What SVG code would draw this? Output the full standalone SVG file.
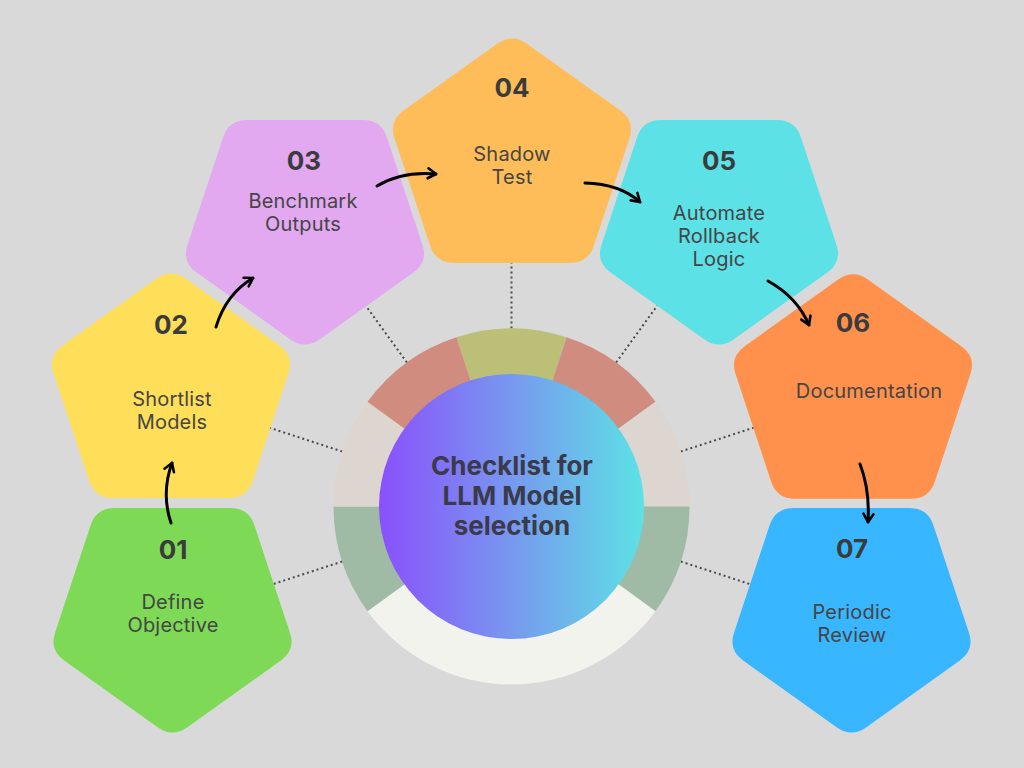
<svg xmlns="http://www.w3.org/2000/svg" width="1024" height="768" viewBox="0 0 1024 768">
  <defs>
    <style>
      .num { font-family: Inter, "Liberation Sans", sans-serif; font-weight: 700; font-size: 26px; fill: #3b3b3b; text-anchor: middle; }
      .lbl { font-family: Inter, "Liberation Sans", sans-serif; font-weight: 400; font-size: 20px; fill: #454545; text-anchor: middle; letter-spacing: 0.2px; }
      .title { font-family: Inter, "Liberation Sans", sans-serif; font-weight: 700; font-size: 26px; fill: #3a3a4a; text-anchor: middle; }
      .dot { stroke: #4a4a4a; stroke-width: 2; stroke-dasharray: 2 3; fill: none; }
      .arrow { stroke: #000; stroke-width: 3; fill: none; stroke-linecap: round; marker-end: url(#head); }
    </style>
    <path id="penta" d="M -14.56,-116.42 Q 0,-127 14.56,-116.42 L 106.22,-49.83 Q 120.78,-39.25 115.22,-22.13 L 80.21,85.63 Q 74.65,102.75 56.65,102.75 L -56.65,102.75 Q -74.65,102.75 -80.21,85.63 L -115.22,-22.13 Q -120.78,-39.25 -106.22,-49.83 Z"/>
    <marker id="head" markerUnits="userSpaceOnUse" markerWidth="14" markerHeight="14" viewBox="0 0 14 14" refX="11" refY="7" orient="auto">
      <path d="M3,2 L11,7 L3,12" fill="none" stroke="#000" stroke-width="2.6" stroke-linecap="round" stroke-linejoin="round"/>
    </marker>
    <linearGradient id="grad" x1="0" y1="0" x2="1" y2="0">
      <stop offset="0" stop-color="#8a50fc"/>
      <stop offset="0.5" stop-color="#7898ef"/>
      <stop offset="1" stop-color="#5ce2e5"/>
    </linearGradient>
  </defs>

  <rect width="1024" height="768" fill="#d9d9d9"/>

  <g id="dotted-links">
    <line class="dot" x1="511.5" y1="328.5" x2="511.5" y2="240"/>
    <line class="dot" x1="616.1" y1="362.5" x2="670" y2="288"/>
    <line class="dot" x1="406.9" y1="362.5" x2="353" y2="288"/>
    <line class="dot" x1="680.8" y1="451.5" x2="768" y2="423"/>
    <line class="dot" x1="342.2" y1="451.5" x2="255" y2="423"/>
    <line class="dot" x1="680.8" y1="561.5" x2="768" y2="590"/>
    <line class="dot" x1="342.2" y1="561.5" x2="255" y2="590"/>
  </g>

  <g id="center">
    <path d="M511.5,506.5 L456.5,337.21 A178,178 0 0 1 566.5,337.21 Z" fill="#bcbf78"/>
    <path d="M511.5,506.5 L566.5,337.21 A178,178 0 0 1 655.5,401.87 Z" fill="#cf8c7f"/>
    <path d="M511.5,506.5 L655.5,401.87 A178,178 0 0 1 689.5,506.5 Z" fill="#ddd5cf"/>
    <path d="M511.5,506.5 L689.5,506.5 A178,178 0 0 1 655.5,611.13 Z" fill="#9fbba5"/>
    <path d="M511.5,506.5 L655.5,611.13 A178,178 0 0 1 367.5,611.13 Z" fill="#f2f3ed"/>
    <path d="M511.5,506.5 L367.5,611.13 A178,178 0 0 1 333.5,506.5 Z" fill="#9fbba5"/>
    <path d="M511.5,506.5 L333.5,506.5 A178,178 0 0 1 367.5,401.87 Z" fill="#ddd5cf"/>
    <path d="M511.5,506.5 L367.5,401.87 A178,178 0 0 1 456.5,337.21 Z" fill="#cf8c7f"/>
    <circle cx="511.5" cy="506.5" r="132.5" fill="url(#grad)"/>
    <text class="title" x="512" y="475">Checklist for</text>
    <text class="title" x="512" y="505">LLM Model</text>
    <text class="title" x="512" y="535">selection</text>
  </g>

  <g id="node-01">
    <use href="#penta" transform="translate(172.5,610.75) scale(1.02,-1)" fill="#7ed957"/>
    <text class="num" x="173" y="559">01</text>
    <text class="lbl" x="173" y="609">Define</text>
    <text class="lbl" x="173" y="632">Objective</text>
  </g>
  <g id="node-02">
    <use href="#penta" transform="translate(171,395.25) scale(1.02,1)" fill="#ffde59"/>
    <text class="num" x="171" y="334">02</text>
    <text class="lbl" x="172" y="406">Shortlist</text>
    <text class="lbl" x="172" y="429">Models</text>
  </g>
  <g id="node-03">
    <use href="#penta" transform="translate(305,222.75) scale(1.02,-1)" fill="#e2a8f0"/>
    <text class="num" x="304" y="170">03</text>
    <text class="lbl" x="303" y="208">Benchmark</text>
    <text class="lbl" x="303" y="231">Outputs</text>
  </g>
  <g id="node-04">
    <use href="#penta" transform="translate(512,160.25) scale(1.02,1)" fill="#ffbd59"/>
    <text class="num" x="512" y="97">04</text>
    <text class="lbl" x="512" y="161">Shadow</text>
    <text class="lbl" x="512" y="184">Test</text>
  </g>
  <g id="node-05">
    <use href="#penta" transform="translate(719,222.75) scale(1.02,-1)" fill="#5ce1e6"/>
    <text class="num" x="719" y="170">05</text>
    <text class="lbl" x="719" y="220">Automate</text>
    <text class="lbl" x="719" y="243">Rollback</text>
    <text class="lbl" x="719" y="266">Logic</text>
  </g>
  <g id="node-06">
    <use href="#penta" transform="translate(853,396) scale(1.02,1)" fill="#ff914d"/>
    <text class="num" x="853" y="332">06</text>
    <text class="lbl" x="869" y="398">Documentation</text>
  </g>
  <g id="node-07">
    <use href="#penta" transform="translate(851.5,610.75) scale(1.02,-1)" fill="#38b6ff"/>
    <text class="num" x="852" y="558">07</text>
    <text class="lbl" x="852" y="619">Periodic</text>
    <text class="lbl" x="852" y="642">Review</text>
  </g>

  <g id="connectors">
    <path class="arrow" d="M171,523 Q161,493 172,463"/>
    <path class="arrow" d="M216,327 Q226,294 253,278"/>
    <path class="arrow" d="M377,186 Q402,171 436,174"/>
    <path class="arrow" d="M585,183 Q620,184 640,202"/>
    <path class="arrow" d="M768,281 Q797,297 809,325"/>
    <path class="arrow" d="M860,464 Q870,490 868,522"/>
  </g>
</svg>
